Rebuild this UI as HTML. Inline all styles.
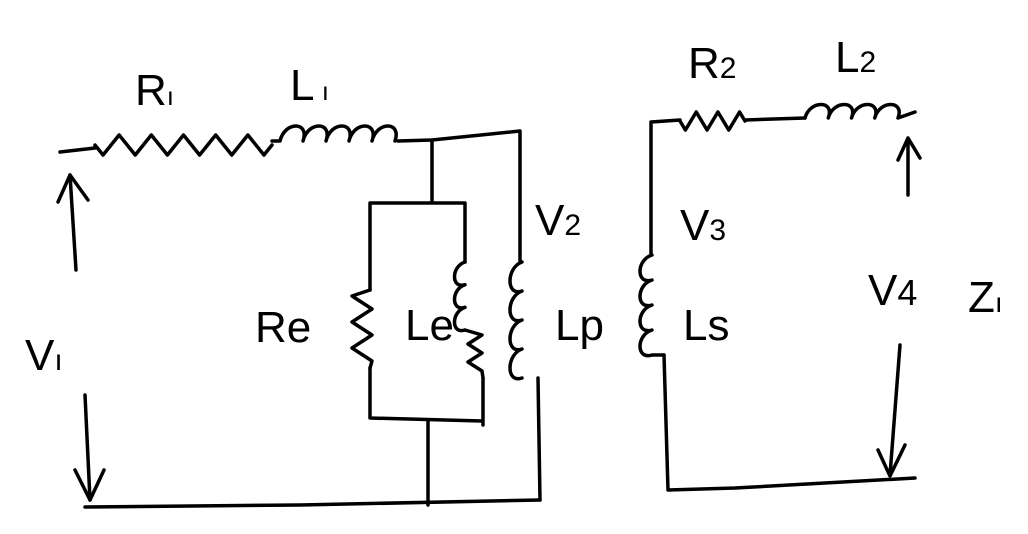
<!DOCTYPE html>
<html><head><meta charset="utf-8"><style>
html,body{margin:0;padding:0;background:#fff;width:1028px;height:534px;overflow:hidden}
svg{display:block}
path,line,polyline{fill:none;stroke:#000;stroke-width:3.5;stroke-linecap:round;stroke-linejoin:round}
text{font-family:"Liberation Sans",sans-serif;font-size:44px;fill:#000}
</style></head><body>
<svg width="1028" height="534" viewBox="0 0 1028 534">
<path id="r1"/>
<path id="l1"/>
<polyline points="398,141 432,140 520,131 520,262"/>
<path id="lp"/>
<polyline points="538,378 540,500"/>
<polyline points="85,507 300,505 540,500"/>
<polyline points="432,140 432,201"/>
<polyline points="370,290 370,203 465,203 465,262"/>
<path id="re"/>
<polyline points="370,368 370,418 482,421"/>
<path id="le"/>
<path id="le2"/>
<polyline points="483,378 483,425"/>
<polyline points="428,420 428,505"/>
<polyline points="76,270 70,175"/>
<polyline points="58,202 70,175 88,200"/>
<polyline points="85,395 90,500"/>
<polyline points="75,470 90,500 104,470"/>
<polyline points="651,255 651,122 680,120"/>
<path id="r2"/>
<polyline points="745,120 805,118"/>
<path id="l2"/>
<path id="ls"/>
<polyline points="664,355 668,490 735,488 915,478"/>
<polyline points="908,195 908,140"/>
<polyline points="898,160 908,138 920,158"/>
<polyline points="900,345 890,475"/>
<polyline points="878,450 890,476 905,445"/>
<text x="135" y="105">R<tspan font-size="26">ı</tspan></text>
<text x="290" y="100">L<tspan font-size="26"> ı</tspan></text>
<text x="535" y="235">V<tspan font-size="30">2</tspan></text>
<text x="255" y="342">Re</text>
<text x="405" y="340">Le</text>
<text x="555" y="340">Lp</text>
<text x="25" y="370">V<tspan font-size="30">ı</tspan></text>
<text x="688" y="78">R<tspan font-size="30">2</tspan></text>
<text x="835" y="72">L<tspan font-size="30">2</tspan></text>
<text x="680" y="240">V<tspan font-size="30">3</tspan></text>
<text x="683" y="340">Ls</text>
<text x="868" y="305">V<tspan font-size="36">4</tspan></text>
<text x="968" y="312">Z<tspan font-size="28">ı</tspan></text>
</svg>
<script>
function zigH(x0,x1,y,n,a){var d='M'+x0+','+y;var s=(x1-x0)/n;for(var i=0;i<n;i++){d+=' L'+(x0+s*(i+0.5))+','+(y+(i%2?-a:a));}return d+' L'+x1+','+y;}
function coilH(x0,x1,y,n,r){var d='M'+x0+','+y;var s=(x1-x0)/n;for(var i=0;i<n;i++){var a=x0+s*i;d+=' C'+(a+s*0.2)+','+(y-r*2)+' '+(a+s*1.3)+','+(y-r*2)+' '+(a+s)+','+y;}return d;}
function coilV(x,y0,y1,n,r){var d='M'+x+','+y0;var s=(y1-y0)/n;for(var i=0;i<n;i++){var a=y0+s*i;d+=' C'+(x-r*2)+','+(a+s*0.2)+' '+(x-r*2)+','+(a+s*1.2)+' '+x+','+(a+s);}return d;}
document.getElementById('r1').setAttribute('d','M60,152 L95,148 '+zigH(95,272,145,11,10).replace('M','L'));
document.getElementById('l1').setAttribute('d','M272,141 '+coilH(280,395,141,5,10).replace('M','L'));
document.getElementById('lp').setAttribute('d',coilV(522,262,378,4,8));
document.getElementById('re').setAttribute('d','M370,290'+(function(){var d='';for(var i=0;i<6;i++){d+=' L'+(i%2?372:352)+','+(290+13*i+6);}return d+' L370,368';})());
document.getElementById('le').setAttribute('d',coilV(465,262,330,3,7));
document.getElementById('le2').setAttribute('d','M465,330'+(function(){var d='';for(var i=0;i<5;i++){d+=' L'+(i%2?468:482)+','+(335+9*i);}return d+' L483,378';})());
document.getElementById('r2').setAttribute('d',zigH(680,745,121,6,9));
document.getElementById('l2').setAttribute('d',coilH(805,898,118,4,9)+' L915,112');
document.getElementById('ls').setAttribute('d',coilV(652,255,355,4,8)+' L664,355');
</script>
</body></html>
